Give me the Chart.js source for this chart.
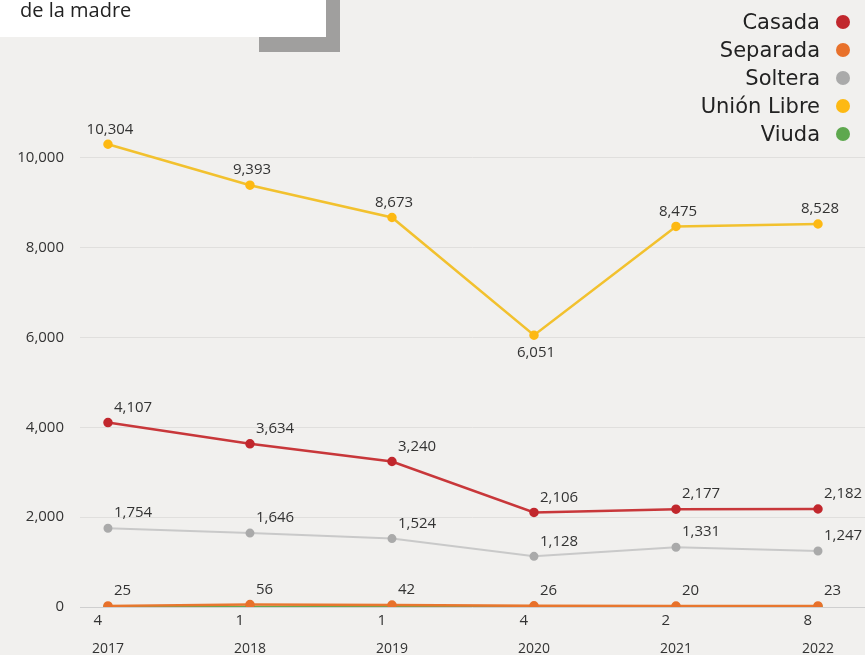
<!DOCTYPE html>
<html>
<head>
<meta charset="utf-8">
<script src="https://cdn.jsdelivr.net/npm/chart.js@4.4.0/dist/chart.umd.min.js"></script>
<style>
  html, body { margin: 0; padding: 0; background: #f1f0ee; }
  #wrap { position: relative; width: 865px; height: 655px; overflow: hidden; font-family: "Open Sans", sans-serif; }
  #chart { position: absolute; left: 0; top: 0; }
  .shadowV { position: absolute; left: 326px; top: 0; width: 14px; height: 52px; background: #a09f9e; }
  .shadowH { position: absolute; left: 259px; top: 37px; width: 81px; height: 15px; background: #a09f9e; }
  .titlebox { position: absolute; left: 0; top: 0; width: 326px; height: 37px; background: #fff; }
  .titlebox span { position: absolute; left: 20px; top: -4px; font-size: 20px; color: #222; }
  #legend { position: absolute; right: 15px; top: 8px; text-align: right; font-family: "DejaVu Sans", sans-serif; }
  #legend div { height: 28px; line-height: 28px; font-size: 21px; color: #222; }
  #legend i { display: inline-block; width: 14px; height: 14px; border-radius: 50%; margin-left: 16px; vertical-align: 0px; }
</style>
</head>
<body>
<div id="wrap">
  <canvas id="chart" width="865" height="655"></canvas>
  <div class="shadowV"></div>
  <div class="shadowH"></div>
  <div class="titlebox"><span>de la madre</span></div>
  <div id="legend"></div>
</div>
<script>
// data
const years = [2017, 2018, 2019, 2020, 2021, 2022];
const casada = [4107, 3634, 3240, 2106, 2177, 2182];
const separada = [25, 56, 42, 26, 20, 23];
const soltera = [1754, 1646, 1524, 1128, 1331, 1247];
const unionLibre = [10304, 9393, 8673, 6051, 8475, 8528];
const viuda = [4, 1, 1, 4, 2, 8];
const yTicks = [0, 2000, 4000, 6000, 8000, 10000];

const fmt = v => v.toLocaleString('en-US');
const pts = arr => arr.map((v, i) => ({ x: years[i], y: v }));

// label placement per series: 'center' above, 'right' above-right, 'left' below-left
const series = [
  { label: 'Casada', data: casada, color: '#c1272d', line: '#c8373a', width: 2.5, pos: 'right' },
  { label: 'Separada', data: separada, color: '#e8712b', line: '#e8772f', width: 2.5, pos: 'right' },
  { label: 'Soltera', data: soltera, color: '#aaaaaa', line: '#c9c9c9', width: 2, pos: 'right' },
  { label: 'Unión Libre', data: unionLibre, color: '#fdb913', line: '#f2c12e', width: 2.5, pos: 'center' },
  { label: 'Viuda', data: viuda, color: '#5ea84e', line: '#6aa84f', width: 2.5, pos: 'left' }
];

document.getElementById('legend').innerHTML = series
  .map(s => '<div>' + s.label + '<i style="background:' + s.color + '"></i></div>').join('');

const valueLabels = {
  id: 'valueLabels',
  afterDatasetsDraw(chart) {
    const ctx = chart.ctx;
    ctx.save();
    ctx.font = '15px "Open Sans", sans-serif';
    ctx.fillStyle = '#333';
    ctx.textBaseline = 'middle';
    chart.data.datasets.forEach((ds, di) => {
      const meta = chart.getDatasetMeta(di);
      const pos = series[di].pos;
      meta.data.forEach((p, i) => {
        const v = series[di].data[i];
        const txt = fmt(v);
        if (pos === 'center') {
          ctx.textAlign = 'center';
          // the dip point gets its label below
          const below = i > 0 && i < years.length - 1 && v < series[di].data[i - 1] && v < series[di].data[i + 1];
          ctx.fillText(txt, p.x + 2, below ? p.y + 17 : p.y - 15);
        } else if (pos === 'right') {
          ctx.textAlign = 'left';
          ctx.fillText(txt, p.x + 6, p.y - 15);
        } else {
          ctx.textAlign = 'right';
          ctx.fillText(txt, p.x - 6, p.y + 14);
        }
      });
    });
    ctx.restore();
  }
};

new Chart(document.getElementById('chart'), {
  type: 'line',
  data: {
    datasets: series.map(s => ({
      label: s.label,
      data: pts(s.data),
      borderColor: s.line,
      backgroundColor: s.color,
      pointBackgroundColor: s.color,
      pointBorderColor: s.color,
      borderWidth: s.width,
      pointRadius: 3.5,
      tension: 0
    }))
  },
  options: {
    responsive: false,
    animation: false,
    layout: { autoPadding: false, padding: { top: 113, right: 0, left: 0, bottom: 0 } },
    plugins: { legend: { display: false }, tooltip: { enabled: false } },
    scales: {
      x: {
        type: 'linear',
        min: 2016.803,
        max: 2022.331,
        afterBuildTicks: s => { s.ticks = years.map(y => ({ value: y })); },
        afterFit: s => { s.height = 48; },
        grid: { display: false },
        border: { display: false },
        ticks: {
          padding: 26,
          maxRotation: 0,
          color: '#333',
          font: { family: 'Open Sans', size: 14 },
          callback: v => String(v)
        }
      },
      y: {
        min: 0,
        max: 11000,
        afterBuildTicks: s => { s.ticks = yTicks.map(v => ({ value: v })); },
        afterFit: s => { s.width = 80; },
        grid: {
          drawTicks: false,
          color: c => c.tick && c.tick.value === 0 ? '#cfcfcf' : '#e0dfdd',
          lineWidth: 1
        },
        border: { display: false },
        ticks: {
          padding: 16,
          color: '#333',
          font: { family: 'Open Sans', size: 15 },
          callback: v => fmt(v)
        }
      }
    }
  },
  plugins: [valueLabels]
});
</script>
</body>
</html>
